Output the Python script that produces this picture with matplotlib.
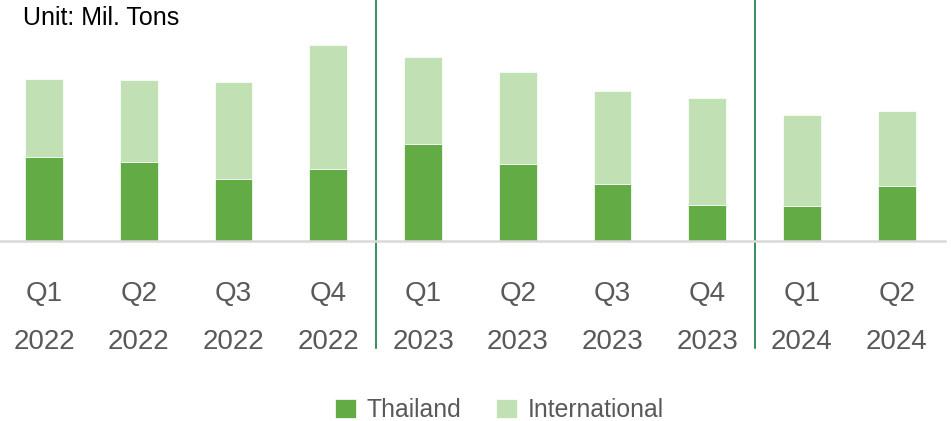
import matplotlib
matplotlib.use("Agg")
import matplotlib.pyplot as plt
import numpy as np

plt.rcParams['font.family'] = ['Liberation Sans', 'DejaVu Sans']

# --------------------------
# Data (Mil. Tons)
# --------------------------
quarters = ['Q1', 'Q2', 'Q3', 'Q4', 'Q1', 'Q2', 'Q3', 'Q4', 'Q1', 'Q2']
years = ['2022', '2022', '2022', '2022', '2023', '2023', '2023', '2023', '2024', '2024']
thailand = [4.19, 3.95, 3.10, 3.60, 4.84, 3.87, 2.87, 1.82, 1.75, 2.77]
international = [3.90, 4.09, 4.87, 6.20, 4.37, 4.57, 4.65, 5.34, 4.54, 3.72]
year_breaks = [3.5, 7.5]

thai_color = '#63ac45'
intl_color = '#c1e0b4'
label_color = '#595959'

# --------------------------
# Plot
# --------------------------
fig = plt.figure(figsize=(9.51, 4.21), dpi=100)
ax = fig.add_axes([0, 180 / 421, 945 / 951, 241 / 421])

x = np.arange(len(quarters))
ax.bar(x, thailand, width=0.4, color=thai_color, edgecolor='white', linewidth=0.5, label='Thailand')
ax.bar(x, international, width=0.4, bottom=thailand, color=intl_color,
       edgecolor='white', linewidth=0.5, label='International')

ax.set_xlim(-0.465, 9.51)
ax.set_ylim(0, 12.05)

for xb in year_breaks:
    ax.axvline(xb, ymin=-0.444, ymax=1, color='#177a40', linewidth=1.2, clip_on=False)

# axes styling
for side in ['top', 'left', 'right']:
    ax.spines[side].set_visible(False)
ax.spines['bottom'].set_color('#d9d9d9')
ax.spines['bottom'].set_linewidth(1.8)
ax.set_yticks([])
ax.set_xticks(x)
ax.set_xticklabels([f'{q}\n{y}' for q, y in zip(quarters, years)],
                   fontsize=20, color=label_color, linespacing=2.14)
ax.tick_params(axis='x', length=0, pad=28.5)

fig.text(23 / 951, 1 - 18 / 421, 'Unit: Mil. Tons', fontsize=18, ha='left', va='center', color='black')

leg = fig.legend(loc='center', bbox_to_anchor=(0.525, 1 - 410 / 421), ncol=2, frameon=False,
                 fontsize=17.8, handlelength=0.85, handleheight=0.8,
                 handletextpad=0.42, columnspacing=1.4, borderaxespad=0, borderpad=0)
for t in leg.get_texts():
    t.set_color(label_color)

fig.savefig('out.png', dpi=100)
